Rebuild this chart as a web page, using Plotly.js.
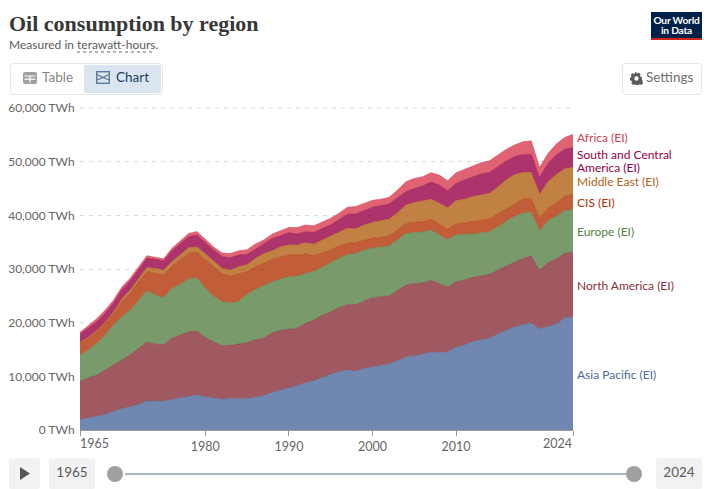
<!DOCTYPE html>
<html>
<head>
<meta charset="utf-8">
<script src="https://cdn.plot.ly/plotly-3.0.1.min.js"></script>
<style>
html,body{margin:0;padding:0;background:#fff;font-family:Lato,sans-serif;}
#wrap{position:relative;width:704px;height:489px;overflow:hidden;}
#chart{position:absolute;left:0;top:0;width:704px;height:489px;}
.ui{position:absolute;box-sizing:border-box;font-family:Lato,sans-serif;}
</style>
</head>
<body>
<div id="wrap">
<div id="chart"></div>
<div class="ui" style="left:651px;top:12px;width:51px;height:28px;background:#002147;border-bottom:2px solid #ce261e;color:#fff;font-size:10.2px;line-height:10px;text-align:center;font-weight:700;padding-top:3px;letter-spacing:-.2px;">Our World<br>in Data</div>
<div class="ui" style="left:10px;top:63px;width:153px;height:32px;border:1px solid #e7e7e7;border-radius:4px;"></div>
<div class="ui" style="left:84px;top:65px;width:77px;height:28px;background:#dbe5f0;border-radius:2px;"></div>
<svg class="ui" style="left:23px;top:72px;" width="14" height="12" viewBox="0 0 14 12"><rect width="14" height="12" rx="2" fill="#a0a0a0"/><path d="M1.5 4h11M7 4v6.5" stroke="#fff" stroke-width="1.2"/><path d="M1.5 7.2h11" stroke="#fff" stroke-width="1.2"/></svg>
<div class="ui" style="left:42px;top:69px;font-size:13.5px;line-height:16px;color:#858585;">Table</div>
<svg class="ui" style="left:96px;top:71px;" width="14" height="13" viewBox="0 0 14 13"><rect x=".7" y=".7" width="12.6" height="11.6" fill="none" stroke="#5b7aa0" stroke-width="1.4"/><path d="M1 3.5l6 3 6-3M1 9l6-2.5L13 9" fill="none" stroke="#5b7aa0" stroke-width="1.2"/></svg>
<div class="ui" style="left:116px;top:69px;font-size:13.5px;line-height:16px;color:#1d3d63;">Chart</div>
<div class="ui" style="left:622px;top:63px;width:80px;height:32px;border:1px solid #e7e7e7;border-radius:4px;"></div>
<svg class="ui" style="left:630px;top:72px;" width="13" height="13" viewBox="0 0 24 24"><path fill="#5b5b5b" d="M22 14.6v-5.2l-3-.6a7.5 7.5 0 0 0-.8-1.8l1.7-2.5-3.7-3.7-2.5 1.7a7.5 7.5 0 0 0-1.8-.8L11.4 -.2H9.6L9 2.7a7.5 7.5 0 0 0-1.8.8L4.7 1.800 1 5.500l1.700 2.500a7.5 7.5 0 0 0-.8 1.800l-1.900.6v5.200l3 .6a7.500 7.500 0 0 0 .8 1.800l-1.700 2.500 3.700 3.700 2.500-1.700a7.500 7.500 0 0 0 1.800.8l.6 3h5.200l.6-3a7.500 7.500 0 0 0 1.800-.8l2.500 1.700 3.700-3.700-1.700-2.500a7.500 7.500 0 0 0 .8-1.800zM12 16a4 4 0 1 1 0-8 4 4 0 0 1 0 8z"/></svg>
<div class="ui" style="left:646px;top:69px;font-size:13.5px;line-height:16px;color:#6e6e6e;">Settings</div>
<div class="ui" style="left:9px;top:458px;width:31px;height:31px;background:#f2f2f2;border-radius:3px;"></div>
<svg class="ui" style="left:20px;top:467px;" width="10" height="13" viewBox="0 0 10 13"><path d="M0 0l10 6.500-10 6.500z" fill="#555"/></svg>
<div class="ui" style="left:49px;top:458px;width:46px;height:31px;background:#f2f2f2;border-radius:3px;font-size:13.5px;line-height:28px;text-align:center;color:#5b5b5b;">1965</div>
<div class="ui" style="left:125px;top:473px;width:501px;height:2px;background:#a4b6ca;"></div>
<div class="ui" style="left:107px;top:466px;width:16px;height:16px;border-radius:50%;background:#a0a0a0;"></div>
<div class="ui" style="left:626px;top:466px;width:16px;height:16px;border-radius:50%;background:#a0a0a0;"></div>
<div class="ui" style="left:656px;top:458px;width:46px;height:31px;background:#f2f2f2;border-radius:3px;font-size:13.5px;line-height:28px;text-align:center;color:#5b5b5b;">2024</div>
</div>
<script>
const years = [1965,1966,1967,1968,1969,1970,1971,1972,1973,1974,1975,1976,1977,1978,1979,1980,1981,1982,1983,1984,1985,1986,1987,1988,1989,1990,1991,1992,1993,1994,1995,1996,1997,1998,1999,2000,2001,2002,2003,2004,2005,2006,2007,2008,2009,2010,2011,2012,2013,2014,2015,2016,2017,2018,2019,2020,2021,2022,2023,2024];
const asiaPacific = [1900,2250,2550,2900,3400,3950,4350,4750,5400,5400,5350,5700,6000,6250,6500,6150,5900,5750,5850,5900,5850,6100,6400,7000,7400,7800,8250,8800,9200,9800,10300,10900,11200,10900,11500,11800,12000,12300,12900,13600,13800,14100,14500,14400,14600,15400,15800,16500,16800,17100,17900,18600,19200,19600,19900,18800,19200,19700,20900,21100];
const northAmerica = [7230,7380,7700,8280,8700,9220,9620,10460,11000,10600,10550,11380,11700,12050,11940,11050,10550,9950,9920,10100,10450,10700,10700,11100,11200,11000,10750,11100,11300,11600,11700,11900,12150,12450,12600,12900,12800,12700,13100,13400,13500,13300,13380,12900,12040,12240,12150,11940,11950,11900,11900,11920,12000,12400,12500,10950,12000,12160,12000,12000];
const europe = [4840,5270,5900,6520,7460,7930,8380,8990,9560,9150,8750,9320,9440,9900,9880,9200,8510,8200,7930,8000,9000,9400,9800,9530,9500,9770,9640,9280,9060,9030,9170,9180,9370,9550,9430,9200,9230,9340,9400,9640,9530,9500,9380,9040,8810,8760,8450,8060,8010,7950,8080,8280,8650,8400,8200,7390,7800,7990,8000,8000];
const cis = [2180,2200,2150,2200,2140,2800,3110,3430,3540,4040,4230,4150,4530,4700,4780,5400,5470,5160,5000,5060,4200,4230,4150,4240,4190,4030,3960,3600,2920,2570,2370,2320,2080,2000,1870,1880,1870,1810,1860,1860,1870,1910,1990,2030,2000,1970,2220,2370,2360,2350,2360,2300,2250,2600,2600,2290,2300,2500,2700,2750];
const middleEast = [200,200,200,200,300,500,620,500,800,930,930,810,930,1070,1050,1100,1070,1060,1100,1400,1300,1570,1850,1530,1860,1900,1860,2120,2160,2400,2610,2470,2780,2600,2800,2920,3100,3150,3240,3400,3700,3860,3750,3930,3950,4380,4380,4630,4750,4800,5060,5500,5500,5000,4850,4520,4950,5250,5100,5100];
const southCentralAmerica = [1470,1640,1680,1630,1600,1680,1680,1670,1680,1680,1680,2040,2180,2050,2180,2000,2030,2170,2300,2140,1950,1700,1740,2300,2050,2270,2040,2050,2160,2180,2050,2380,2620,2740,2700,2800,2800,2800,2780,2500,2600,2780,3200,3350,3170,3200,3600,3700,3830,3900,3750,3500,3300,3350,3350,3050,3420,3630,3600,3650];
const africa = [400,480,550,600,600,550,500,550,500,400,400,450,420,600,650,620,550,700,800,800,850,980,760,800,860,980,1250,1250,1280,1220,1250,1250,1300,1410,1330,1300,1200,1250,1420,1870,1880,1750,1740,1850,1880,1990,1960,1980,2100,2170,2190,2180,2200,2350,2500,1940,1870,2050,2200,2500];

const seriesNames = ['Asia Pacific (EI)','North America (EI)','Europe (EI)','CIS (EI)','Middle East (EI)','South and Central America (EI)','Africa (EI)'];
const seriesValues = [asiaPacific,northAmerica,europe,cis,middleEast,southCentralAmerica,africa];
const seriesColors = ['#4C6A9C','#883039','#578145','#B13507','#B16214','#970046','#D73C50'];
const seriesFill = ['rgba(76,106,156,.8)','rgba(136,48,57,.8)','rgba(87,129,69,.8)','rgba(177,53,7,.8)','rgba(177,98,20,.8)','rgba(151,0,70,.8)','rgba(215,60,80,.8)'];
const labelText = ['Asia Pacific (EI)','North America (EI)','Europe (EI)','CIS (EI)','Middle East (EI)','America (EI)','South and Central','Africa (EI)'];
const labelColors = ['#4C6A9C','#883039','#578145','#B13507','#B16214','#970046','#970046','#D73C50'];
const labelPixelY = [374,285,231,202,181,167,154,137];
const xTickVals = [1965,1980,1990,2000,2010,2024];
const yTickVals = [0,10000,20000,30000,40000,50000,60000];
const yTickText = ['0 TWh','10,000 TWh','20,000 TWh','30,000 TWh','40,000 TWh','50,000 TWh','60,000 TWh'];

const L=80,R=573,T=108,B=430;
const px=x=>(x-L)/(R-L), py=y=>(B-y)/(B-T);

const traces = seriesValues.map((v,i)=>({
  x:years,y:v,name:seriesNames[i],type:'scatter',mode:'lines',stackgroup:'one',
  line:{color:seriesColors[i],width:0.5},fillcolor:seriesFill[i],hoverinfo:'skip'
}));

const anns = labelText.map((t,i)=>({
  text:t,xref:'paper',yref:'paper',x:px(576),y:py(labelPixelY[i]),xanchor:'left',yanchor:'middle',align:'left',
  showarrow:false,font:{family:'Lato',size:12,color:labelColors[i]},borderpad:0
}));
anns.push({text:'Measured in terawatt-hours.',xref:'paper',yref:'paper',x:px(8),y:py(44),xanchor:'left',yanchor:'middle',showarrow:false,borderpad:0,font:{family:'Lato',size:12,color:'#5b5b5b'}});
anns.push({text:'1965',xref:'paper',yref:'paper',x:px(79),y:py(443),xanchor:'left',yanchor:'middle',showarrow:false,borderpad:0,font:{family:'Lato',size:12.5,color:'#666'}});
anns.push({text:'2024',xref:'paper',yref:'paper',x:px(573),y:py(443),xanchor:'right',yanchor:'middle',showarrow:false,borderpad:0,font:{family:'Lato',size:12.5,color:'#666'}});

const layout = {
  width:704,height:489,paper_bgcolor:'#fff',plot_bgcolor:'#fff',showlegend:false,hovermode:false,
  margin:{l:L,r:704-R,t:T,b:489-B,pad:0},
  title:{text:'<b>Oil consumption by region</b>',x:9/704,xanchor:'left',xref:'container',y:1-23/489,yref:'container',yanchor:'middle',font:{family:'Liberation Serif',size:22,color:'#373737'}},
  xaxis:{range:[1965,2024],tickmode:'array',tickvals:xTickVals,ticktext:xTickVals.map(v=>(v===1965||v===2024)?'':String(v)),ticks:'outside',ticklen:5,tickcolor:'#999',showgrid:false,showline:true,linecolor:'#999',linewidth:1,zeroline:false,tickfont:{family:'Lato',size:12.5,color:'#666'}},
  yaxis:{range:[0,60000],tickmode:'array',tickvals:yTickVals,ticktext:yTickText,ticks:'outside',ticklen:2,tickcolor:'rgba(0,0,0,0)',showgrid:true,gridcolor:'#d9d9d9',griddash:'4px,5px',gridwidth:1,zeroline:false,showline:false,tickfont:{family:'Lato',size:12,color:'#666'}},
  annotations:anns,
  shapes:[{type:'line',xref:'paper',yref:'paper',x0:px(77),x1:px(155),y0:py(52),y1:py(52),line:{color:'#666',width:1,dash:'dot'}},
          {type:'line',xref:'paper',yref:'paper',x0:0,x1:1,y0:1,y1:1,layer:'below',line:{color:'#d9d9d9',width:1,dash:'4px,5px'}}]
};
Plotly.newPlot('chart',traces,layout,{displayModeBar:false,staticPlot:true});
</script>
</body>
</html>
